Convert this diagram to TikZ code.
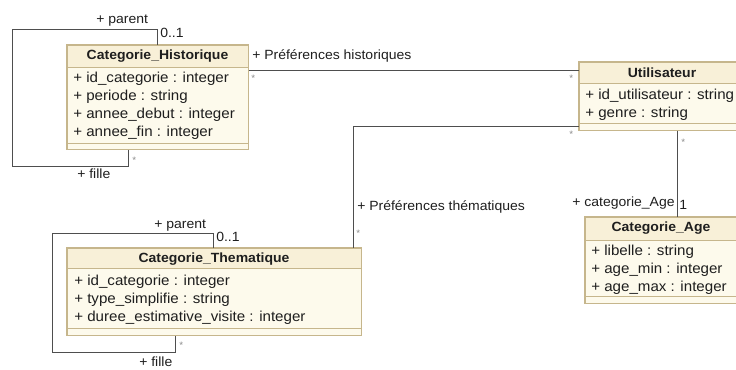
\documentclass[tikz,border=0pt]{standalone}
\usepackage{fontspec}
\setmainfont{Liberation Sans}[FakeStretch=1.05]
\usetikzlibrary{calc}
\definecolor{boxfill}{HTML}{FDFAEC}
\definecolor{headfill}{HTML}{F8F0D8}
\definecolor{boxline}{HTML}{C6B68C}
\definecolor{wire}{HTML}{4E4E4E}
\definecolor{multc}{HTML}{8A8A8A}
\definecolor{txt}{HTML}{1E1E1E}
\begin{document}
\begin{tikzpicture}[x=0.75pt,y=-0.75pt,
  every node/.style={font=\fontsize{10}{12}\selectfont, inner sep=0pt, text=txt},
  cls/.style n args={2}{fill=boxfill, anchor=north west, rectangle, minimum width=#1*0.75pt, minimum height=#2*0.75pt},
  border/.style={draw=boxline, line width=0.8pt},
  sepline/.style={draw=boxline, line width=0.7pt},
  headtxt/.style={font=\fontsize{10}{12}\selectfont\bfseries},
  attr/.style={anchor=west, font=\fontsize{10.8}{12}\selectfont, text height=8pt, text depth=2pt},
  lbl/.style={anchor=west, text height=7.5pt, text depth=2pt},
  mult/.style={anchor=west, font=\fontsize{7}{8}\selectfont, text=multc},
  assoc/.style={draw=wire, line width=0.75pt}
]
\useasboundingbox (0,0) rectangle (736,369);

% ---------- Categorie_Historique ----------
\node[cls={181}{104}] (hist) at (67,45) {};
\fill[headfill] (67,45) rectangle (248,67);
\draw[sepline] (67,67) -- (248,67);
\draw[sepline] (67,143) -- (248,143);
\draw[border] (hist.north west) rectangle (hist.south east);
\node[headtxt] (histT) at (157.5,56) {Categorie\_Historique};
\node[attr] (h1) at (73,78) {+ id\_categorie : integer};
\node[attr] (h2) at (73,96) {+ periode : string};
\node[attr] (h3) at (73,114) {+ annee\_debut : integer};
\node[attr] (h4) at (73,132) {+ annee\_fin : integer};

% ---------- Utilisateur ----------
\node[cls={166}{68}] (util) at (579,62) {};
\fill[headfill] (579,62) rectangle (745,83);
\draw[sepline] (579,83) -- (745,83);
\draw[sepline] (579,123) -- (745,123);
\draw[border] (util.north west) rectangle (util.south east);
\node[headtxt] (utilT) at (662,73) {Utilisateur};
\node[attr] (u1) at (585,95) {+ id\_utilisateur : string};
\node[attr] (u2) at (585,113) {+ genre : string};

% ---------- Categorie_Thematique ----------
\node[cls={294}{87}] (theme) at (67,248) {};
\fill[headfill] (67,248) rectangle (361,268);
\draw[sepline] (67,268) -- (361,268);
\draw[sepline] (67,328) -- (361,328);
\draw[border] (theme.north west) rectangle (theme.south east);
\node[headtxt] (themeT) at (214,259) {Categorie\_Thematique};
\node[attr] (t1) at (74,281) {+ id\_categorie : integer};
\node[attr] (t2) at (74,299) {+ type\_simplifie : string};
\node[attr] (t3) at (74,317) {+ duree\_estimative\_visite : integer};

% ---------- Categorie_Age ----------
\node[cls={160}{86}] (age) at (585,217) {};
\fill[headfill] (585,217) rectangle (745,240);
\draw[sepline] (585,240) -- (745,240);
\draw[sepline] (585,296) -- (745,296);
\draw[border] (age.north west) rectangle (age.south east);
\node[headtxt] (ageT) at (661,228) {Categorie\_Age};
\node[attr] (a1) at (591,251) {+ libelle : string};
\node[attr] (a2) at (591,269) {+ age\_min : integer};
\node[attr] (a3) at (591,287) {+ age\_max : integer};

% ---------- Connectors ----------
% historical self association
\draw[assoc] ($(hist.north west)+(90,0)$) |- (12,29) |- (128,166) -- ($(hist.south west)+(61,0)$);
% thematic self association
\draw[assoc] ($(theme.north west)+(146,0)$) |- (52,233) |- (175,352) -- ($(theme.south west)+(108,0)$);
% Preferences historiques
\draw[assoc] ($(hist.north east)+(0,25)$) -- ($(util.north west)+(0,8)$);
% Preferences thematiques
\draw[assoc] ($(util.south west)+(0,-4)$) -| ($(theme.north west)+(286,0)$);
% categorie_Age
\draw[assoc] ($(util.south west)+(98,0)$) -- ($(age.north west)+(92,0)$);

% ---------- Labels ----------
\node[lbl] (hpar) at (96,20) {+ parent};
\node[lbl] (hm01) at (160,34) {0..1};
\node[mult] (hmst) at (132,160) {*};
\node[lbl] (hfil) at (77,175) {+ fille};

\node[lbl] (phl) at (252,56) {+ Préférences historiques};
\node[mult] (ph1) at (251,78) {*};
\node[mult] (ph2) at (569,78) {*};

\node[lbl] (ptl) at (357,207) {+ Préférences thématiques};
\node[mult] (pt1) at (569,134) {*};
\node[mult] (pt2) at (356,233) {*};

\node[mult] (ca1) at (681,142) {*};
\node[lbl] (cal) at (572,203) {+ categorie\_Age};
\node[lbl] (ca2) at (679,206) {1};

\node[lbl] (tpar) at (154,225) {+ parent};
\node[lbl] (tm01) at (216,238) {0..1};
\node[mult] (tmst) at (179,345) {*};
\node[lbl] (tfil) at (139,363) {+ fille};
\end{tikzpicture}
\end{document}
